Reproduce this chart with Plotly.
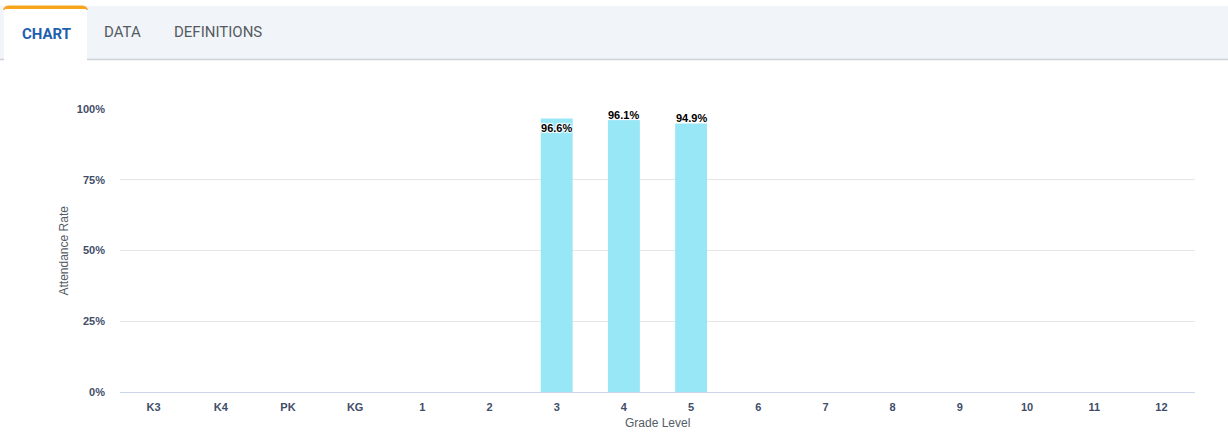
import plotly.graph_objects as go

# ---- data ----
grades = ["K3", "K4", "PK", "KG", "1", "2", "3", "4", "5", "6", "7", "8", "9", "10", "11", "12"]
attendance = [None, None, None, None, None, None, 96.6, 96.1, 94.9, None, None, None, None, None, None, None]
y_ticks = [0, 25, 50, 75, 100]
y_tick_labels = ["0%", "25%", "50%", "75%", "100%"]
tabs = ["CHART", "DATA", "DEFINITIONS"]

# ---- layout geometry (pixels) ----
W, H = 1228, 433
L, R, T, B = 120, 33, 109, 41
PW, PH = W - L - R, H - T - B


def px(x):
    return (x - L) / PW


def py(y):
    return (H - B - y) / PH


label_font = dict(family="Liberation Sans, Arial, sans-serif", size=11, color="#000000", weight="bold",
                  shadow="1px 1px 1px #fff, -1px -1px 1px #fff, 1px -1px 1px #fff, -1px 1px 1px #fff")

inside_idx = 6  # the label drawn inside its bar (as in the reference)
bar_text = [f"{v:.1f}%" if (v is not None and i == inside_idx) else "" for i, v in enumerate(attendance)]

fig = go.Figure(
    go.Bar(
        x=grades,
        y=attendance,
        marker=dict(color="#98e7f6", line=dict(width=0)),
        text=bar_text,
        textposition="inside",
        textangle=0,
        constraintext="none",
        insidetextanchor="end",
        cliponaxis=False,
        textfont=label_font,
        hoverinfo="skip",
    )
)

shapes = [
    # tab strip
    dict(type="rect", xref="paper", yref="paper", x0=px(0), x1=px(W), y0=py(59), y1=py(6),
         fillcolor="#f1f4f8", line=dict(width=0), layer="below"),
    dict(type="line", xref="paper", yref="paper", x0=px(0), x1=px(W), y0=py(59.5), y1=py(59.5),
         line=dict(color="#cdd2d8", width=1.5)),
    # active tab
    dict(type="rect", xref="paper", yref="paper", x0=px(4), x1=px(87), y0=py(61), y1=py(8),
         fillcolor="#ffffff", line=dict(width=0)),
    dict(type="path", xref="paper", yref="paper",
         path=f"M {px(4)},{py(10)} Q {px(4)},{py(6)} {px(9)},{py(6)} L {px(82)},{py(6)} "
              f"Q {px(87)},{py(6)} {px(87)},{py(10)} L {px(87)},{py(8.5)} L {px(4)},{py(8.5)} Z",
         fillcolor="#f7a41d", line=dict(color="#f7a41d", width=1)),
]

common = dict(xref="paper", yref="paper", showarrow=False, xanchor="center", yanchor="middle")
annotations = [
    dict(text="<b>CHART</b>", x=px(46), y=py(34.5),
         font=dict(family="Roboto, sans-serif", size=15, color="#1f5fae"), **common),
    dict(text="DATA", x=px(122), y=py(32),
         font=dict(family="Roboto, sans-serif", size=15, color="#555b63"), **common),
    dict(text="DEFINITIONS", x=px(218), y=py(32),
         font=dict(family="Roboto, sans-serif", size=15, color="#555b63"), **common),
    dict(text="Attendance Rate", x=px(63), y=0.5, textangle=-90,
         font=dict(family="Liberation Sans, Arial, sans-serif", size=12, color="#555c66"), **common),
    dict(text="Grade Level", x=px(657), y=py(423),
         font=dict(family="Liberation Sans, Arial, sans-serif", size=12, color="#555c66"), **common),
]

# outside data labels sitting right on top of their bars (x given as category index)
for i, v in enumerate(attendance):
    if v is None or i == inside_idx:
        continue
    annotations.append(dict(text=f"{v:.1f}%", x=i, y=v, xref="x", yref="y", showarrow=False,
                            xanchor="center", yanchor="bottom", yshift=-3, font=label_font))

fig.update_layout(
    width=W, height=H,
    margin=dict(l=L, r=R, t=T, b=B, pad=0),
    paper_bgcolor="#ffffff", plot_bgcolor="#ffffff",
    bargap=0.525,
    showlegend=False,
    shapes=shapes,
    annotations=annotations,
    xaxis=dict(
        type="category", categoryorder="array", categoryarray=grades,
        showgrid=False, zeroline=False, showline=True, linecolor="#ccd6eb", linewidth=1,
        ticks="", ticklabelstandoff=5,
        tickfont=dict(family="Liberation Sans, Arial, sans-serif", size=11, color="#3f4d68", weight="bold"),
        fixedrange=True,
    ),
    yaxis=dict(
        range=[0, 100], tickvals=y_ticks, ticktext=y_tick_labels,
        showgrid=True, gridcolor="#e6e6e6", gridwidth=1, zeroline=False, showline=False,
        ticks="", ticklabelstandoff=14,
        tickfont=dict(family="Liberation Sans, Arial, sans-serif", size=11, color="#3f4d68", weight="bold"),
        fixedrange=True,
    ),
)

fig.write_html("out.html", config={"displayModeBar": False})
